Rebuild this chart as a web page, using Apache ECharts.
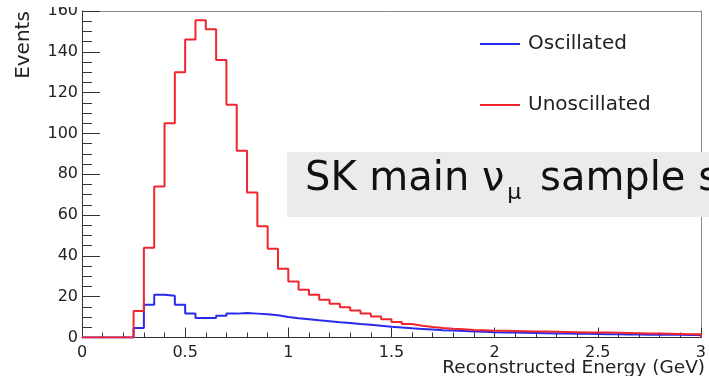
<!DOCTYPE html>
<html>
<head>
<meta charset="utf-8">
<script src="https://cdn.jsdelivr.net/npm/echarts@6/dist/echarts.min.js"></script>
<style>
  html, body { margin: 0; padding: 0; background: #fff; }
  #chart { width: 709px; height: 376px; }
</style>
</head>
<body>
<div id="chart"></div>
<script>
// Lower edges of the 0.05 GeV reconstructed-energy bins (0 - 3 GeV)
const binEdges = [
  0.00, 0.05, 0.10, 0.15, 0.20, 0.25, 0.30, 0.35, 0.40, 0.45,
  0.50, 0.55, 0.60, 0.65, 0.70, 0.75, 0.80, 0.85, 0.90, 0.95,
  1.00, 1.05, 1.10, 1.15, 1.20, 1.25, 1.30, 1.35, 1.40, 1.45,
  1.50, 1.55, 1.60, 1.65, 1.70, 1.75, 1.80, 1.85, 1.90, 1.95,
  2.00, 2.05, 2.10, 2.15, 2.20, 2.25, 2.30, 2.35, 2.40, 2.45,
  2.50, 2.55, 2.60, 2.65, 2.70, 2.75, 2.80, 2.85, 2.90, 2.95
];
const histEnd = 3.0;

// Expected events per bin, unoscillated prediction
const unoscillated = [
  0, 0, 0, 0, 0, 13, 44, 74, 105, 130,
  146, 155.5, 151, 136, 114, 91.5, 71, 54.5, 43.5, 33.7,
  27.5, 23.4, 21.0, 18.5, 16.5, 14.8, 13.2, 11.8, 10.3, 9.0,
  7.6, 6.6, 5.8, 5.2, 4.7, 4.3, 4.0, 3.7, 3.5, 3.3,
  3.3, 3.2, 3.1, 3.0, 2.9, 2.8, 2.7, 2.6, 2.5, 2.5,
  2.4, 2.3, 2.2, 2.1, 2.0, 1.9, 1.8, 1.7, 1.6, 1.6
];

// Expected events per bin, oscillated prediction
const oscillated = [
  0, 0, 0, 0, 0, 4.7, 16, 21, 20.5, 16,
  11.7, 9.6, 9.6, 10.7, 11.7, 12.0, 11.7, 11.4, 10.9, 10.1,
  9.4, 8.9, 8.4, 8.0, 7.5, 7.1, 6.6, 6.2, 5.8, 5.3,
  4.9, 4.5, 4.2, 3.9, 3.6, 3.4, 3.2, 3.0, 2.8, 2.6,
  2.5, 2.4, 2.3, 2.2, 2.1, 2.0, 1.9, 1.8, 1.8, 1.7,
  1.6, 1.6, 1.5, 1.5, 1.4, 1.4, 1.3, 1.3, 1.2, 1.2
];

const xTickLabels = ['0', '0.5', '1', '1.5', '2', '2.5', '3'];
const yTickLabels = ['0', '20', '40', '60', '80', '100', '120', '140', '160'];

const FONT = 'DejaVu Sans';
const INK = '#222';
const AXIS = '#333';
const FRAME = '#8a8a8a';

// Build a step outline: one point per lower bin edge, then close at the upper edge
function histPoints(values) {
  const pts = binEdges.map((e, i) => [e, values[i]]);
  pts.push([histEnd, values[values.length - 1]]);
  pts.push([histEnd, 0]);
  return pts;
}

// Plain frame edge (top / right) without ticks or labels
function frameAxis(base) {
  return Object.assign({
    type: 'value',
    axisLine: { show: true, onZero: false, lineStyle: { color: FRAME, width: 1 } },
    axisTick: { show: false }, axisLabel: { show: false }, splitLine: { show: false }
  }, base);
}

const chart = echarts.init(document.getElementById('chart'), null, { renderer: 'canvas' });

chart.setOption({
  animation: false,
  backgroundColor: '#fff',
  grid: { left: 82, right: 4, top: 11, bottom: 38.5, show: false },
  xAxis: [
    {
      type: 'value', min: 0, max: 3, interval: 0.5, position: 'bottom',
      axisLine: { show: true, onZero: false, lineStyle: { color: AXIS, width: 1 } },
      axisTick: { show: true, inside: true, length: 10, lineStyle: { color: AXIS, width: 1 } },
      minorTick: { show: true, splitNumber: 5, length: 5, lineStyle: { color: AXIS, width: 1 } },
      splitLine: { show: false },
      axisLabel: {
        margin: 7, fontSize: 16, fontFamily: FONT, color: INK,
        formatter: (v) => xTickLabels[Math.round(v / 0.5)]
      }
    },
    frameAxis({ min: 0, max: 3, position: 'top' })
  ],
  yAxis: [
    {
      type: 'value', min: 0, max: 160, interval: 20, position: 'left',
      axisLine: { show: true, onZero: false, lineStyle: { color: AXIS, width: 1 } },
      axisTick: { show: true, inside: true, length: 18, lineStyle: { color: AXIS, width: 1 } },
      minorTick: { show: true, splitNumber: 4, length: 10, lineStyle: { color: AXIS, width: 1 } },
      splitLine: { show: false },
      axisLabel: {
        margin: 4, fontSize: 16, fontFamily: FONT, color: INK,
        formatter: (v) => yTickLabels[Math.round(v / 20)]
      }
    },
    frameAxis({ min: 0, max: 160, position: 'right' })
  ],
  legend: {
    orient: 'vertical', left: 480, top: 34, padding: 0,
    itemWidth: 40, itemHeight: 2, icon: 'rect', itemGap: 41,
    textStyle: { fontSize: 20, fontFamily: FONT, color: INK, lineHeight: 20, padding: [0, 0, 0, 3] },
    data: ['Oscillated', 'Unoscillated']
  },
  series: [
    {
      name: 'Oscillated', type: 'line', step: 'end', symbol: 'none',
      xAxisIndex: 0, yAxisIndex: 0,
      data: histPoints(oscillated), z: 3,
      lineStyle: { color: '#2a2aee', width: 2 }, itemStyle: { color: '#2a2aee' }
    },
    {
      name: 'Unoscillated', type: 'line', step: 'end', symbol: 'none',
      xAxisIndex: 0, yAxisIndex: 0,
      data: histPoints(unoscillated), z: 4,
      lineStyle: { color: '#f0262e', width: 2 }, itemStyle: { color: '#f0262e' }
    }
  ],
  graphic: [
    // sample caption box, running off the right edge
    {
      type: 'rect', left: 287, top: 152, z: 50,
      shape: { width: 440, height: 65 },
      style: { fill: '#ebebeb' }
    },
    {
      type: 'text', left: 305, top: 160, z: 51,
      style: {
        text: '{a|SK main}{a| ν}{b|μ}{a| sample selection}',
        fill: '#111',
        rich: {
          a: { fontSize: 40, fontFamily: FONT, fill: '#111', lineHeight: 48 },
          b: { fontSize: 22, fontFamily: FONT, fill: '#111', lineHeight: 42, verticalAlign: 'bottom', padding: [0, 6, 0, 3] }
        }
      }
    },
    // axis titles
    {
      type: 'text', z: 20, x: 24, y: 45, rotation: Math.PI / 2,
      style: {
        text: 'Events', fontSize: 20, fontFamily: FONT, fill: INK,
        textAlign: 'center', textVerticalAlign: 'middle'
      }
    },
    {
      type: 'text', z: 20, x: 705, y: 368,
      style: {
        text: 'Reconstructed Energy (GeV)', fontSize: 18.5, fontFamily: FONT, fill: INK,
        textAlign: 'right', textVerticalAlign: 'middle'
      }
    },
    // the top of the frame cuts into the highest tick label
    {
      type: 'rect', left: 36, top: 0, z: 60,
      shape: { width: 44, height: 7 },
      style: { fill: '#fff' }
    }
  ]
});
</script>
</body>
</html>
